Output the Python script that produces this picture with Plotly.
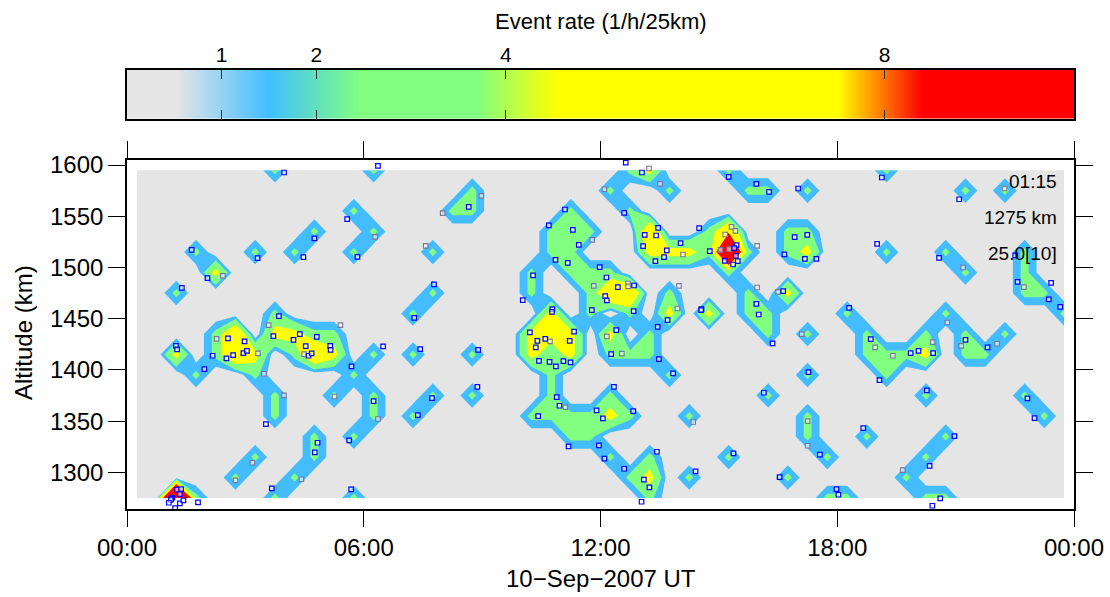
import numpy as np
import plotly.graph_objects as go

FONT = "Liberation Sans"

# Grid: half-hour columns, 20 km rows
time_hours = [0.25 + 0.5 * i for i in range(48)]
altitude_km = [1275 + 20 * i for i in range(17)]
rate_per_event = 2.5
level_values = [1, 2, 4, 8]
level_colors = ["#43BDFF", "#80FF80", "#FFFF00", "#FF0000"]

# event counts per row (bottom to top): {time column index: count}
event_counts = [
    {2: 10, 3: 1, 7: 1, 11: 1, 26: 1, 35: 1, 36: 1, 40: 1, 41: 1},
    {5: 1, 8: 1, 25: 1, 26: 2, 28: 1, 33: 1, 39: 1},
    {6: 1, 9: 1, 24: 1, 26: 1, 30: 1, 35: 1, 40: 1},
    {9: 1, 11: 1, 22: 1, 23: 1, 34: 1, 37: 1, 41: 1},
    {7: 1, 12: 1, 14: 1, 20: 1, 21: 1, 22: 1, 23: 1, 24: 2, 25: 1, 28: 1, 34: 1, 46: 1},
    {7: 1, 10: 1, 12: 1, 15: 1, 17: 1, 21: 1, 24: 1, 32: 1, 40: 1, 45: 1},
    {3: 1, 6: 1, 11: 1, 21: 1, 27: 1, 34: 1, 38: 1},
    {2: 2, 4: 1, 5: 3, 6: 2, 8: 1, 9: 3, 10: 2, 12: 1, 14: 1, 17: 1, 20: 2, 21: 1, 22: 2,
     24: 1, 25: 1, 26: 1, 37: 1, 38: 1, 39: 1, 40: 2, 42: 1, 43: 1},
    {4: 1, 5: 3, 7: 2, 8: 2, 9: 1, 10: 1, 20: 2, 21: 2, 22: 2, 24: 2, 26: 1, 32: 1, 34: 1,
     37: 1, 40: 1, 42: 1, 44: 1},
    {7: 1, 14: 1, 21: 2, 23: 1, 25: 1, 27: 2, 29: 2, 31: 1, 32: 1, 36: 1, 41: 1, 47: 1},
    {2: 1, 15: 1, 20: 1, 23: 1, 24: 3, 25: 3, 27: 1, 31: 1, 33: 2, 45: 1, 46: 1},
    {4: 2, 20: 1, 22: 1, 23: 1, 24: 1, 30: 1, 42: 1, 45: 1},
    {3: 1, 6: 1, 8: 1, 11: 1, 15: 1, 21: 1, 22: 1, 26: 2, 27: 2, 28: 2, 29: 1, 30: 7, 31: 1,
     33: 1, 34: 2, 38: 1, 41: 1, 45: 1},
    {9: 1, 12: 1, 21: 1, 22: 1, 23: 1, 26: 3, 29: 1, 30: 3, 33: 1, 34: 1},
    {11: 1, 16: 1, 17: 1, 22: 1, 25: 1},
    {17: 1, 24: 1, 27: 1, 31: 1, 32: 1, 34: 1, 42: 1, 44: 1},
    {7: 1, 12: 1, 25: 1, 26: 2, 30: 1, 38: 1},
]

# individual events (time in hours, altitude in km)
blue_hours = [3.98, 6.36, 5.58, 5.84, 4.75, 4.47, 3.31, 1.64, 2.04, 1.39, 1.24, 1.27, 1.96, 2.56, 2.98,
              2.17, 2.52, 2.69, 2.95, 3.04, 3.52, 3.85, 3.71, 4.38, 4.22, 4.81, 4.53, 5.15, 5.16, 4.60,
              4.68, 5.69, 6.25, 5.63, 6.49, 4.83, 4.76, 3.67, 5.68, 1.27, 1.37, 1.34, 1.15, 1.12, 1.11,
              1.06, 1.34, 1.43, 1.22, 1.80, 8.66, 7.78, 7.28, 7.43, 8.90, 8.88, 7.73, 7.37, 10.29, 10.03,
              11.10, 10.69, 11.30, 11.45, 10.86, 11.17, 11.98, 12.15, 12.44, 12.12, 12.16, 12.85, 11.78,
              12.84, 10.78, 10.77, 12.60, 12.64, 10.21, 11.33, 10.40, 10.60, 11.22, 10.36, 10.44, 10.71,
              10.87, 11.06, 11.24, 10.89, 10.96, 10.42, 11.90, 12.06, 12.34, 11.19, 11.96, 12.10, 12.60,
              12.83, 12.40, 12.27, 13.48, 13.84, 13.45, 13.70, 14.56, 14.55, 15.37, 13.43, 13.10, 13.24,
              13.04, 14.41, 13.05, 13.46, 13.12, 13.41, 13.08, 13.68, 13.61, 13.39, 14.03, 14.50, 15.45,
              15.39, 14.77, 15.43, 15.15, 15.48, 15.36, 15.25, 15.95, 16.27, 17.01, 16.92, 17.24, 16.66,
              17.18, 17.47, 16.63, 15.95, 16.01, 16.36, 18.30, 17.27, 16.14, 17.56, 16.54, 17.98, 18.03,
              18.66, 19.13, 21.09, 19.01, 20.58, 22.51, 22.57, 23.42, 23.36, 23.65, 18.85, 19.86, 20.06,
              20.43, 19.07, 20.27, 21.25, 21.81, 22.82, 23.00, 20.97, 20.34, 20.61, 20.41]
blue_km = [1592.7, 1599.1, 1547.1, 1510.3, 1528.3, 1510.0, 1509.1, 1517.2, 1489.6, 1480.1, 1423.5, 1420.0,
           1400.8, 1430.7, 1427.8, 1413.8, 1411.2, 1414.4, 1416.4, 1418.6, 1347.1, 1452.5, 1433.0, 1434.9,
           1429.4, 1432.3, 1423.2, 1423.5, 1419.6, 1413.8, 1416.1, 1403.4, 1369.6, 1331.2, 1422.9, 1328.9,
           1319.5, 1284.4, 1283.4, 1283.0, 1283.7, 1278.8, 1275.2, 1274.4, 1273.0, 1270.3, 1269.8, 1272.7,
           1265.0, 1270.7, 1559.1, 1483.4, 1450.8, 1420.3, 1419.6, 1383.5, 1372.5, 1355.9, 1492.2, 1468.1,
           1556.6, 1541.0, 1536.7, 1522.0, 1507.4, 1504.5, 1500.3, 1490.2, 1480.8, 1472.0, 1467.8, 1482.4,
           1458.3, 1457.4, 1459.3, 1456.7, 1553.3, 1602.4, 1436.6, 1437.4, 1428.4, 1430.3, 1428.4, 1422.0,
           1408.9, 1407.9, 1403.4, 1408.6, 1407.3, 1373.5, 1365.0, 1354.9, 1360.5, 1352.7, 1383.5, 1325.4,
           1326.3, 1313.3, 1303.5, 1359.8, 1438.8, 1415.4, 1410.5, 1396.6, 1442.0, 1448.6, 1459.3, 1458.3,
           1318.5, 1320.1, 1292.8, 1285.4, 1271.3, 1301.0, 1592.7, 1538.6, 1531.8, 1531.2, 1520.8, 1516.6,
           1510.0, 1506.1, 1523.7, 1538.3, 1521.8, 1518.8, 1515.9, 1511.3, 1506.4, 1506.1, 1502.9, 1588.4,
           1581.6, 1573.8, 1577.1, 1529.6, 1531.8, 1512.7, 1508.4, 1508.4, 1476.9, 1464.5, 1454.1, 1425.9,
           1460.6, 1397.9, 1377.7, 1317.2, 1295.4, 1283.7, 1278.1, 1343.2, 1587.8, 1566.6, 1523.0, 1509.4,
           1511.7, 1486.0, 1485.0, 1468.8, 1461.6, 1430.0, 1416.4, 1418.6, 1416.4, 1390.0, 1380.0, 1429.4,
           1422.0, 1372.2, 1353.0, 1335.4, 1306.4, 1274.6, 1267.4]
gray_hours = [6.29, 2.43, 2.27, 3.32, 3.47, 3.98, 3.59, 4.49, 5.41, 5.26, 6.36, 4.42, 3.18, 2.75, 8.98, 8.00,
              7.57, 11.79, 11.83, 12.70, 12.70, 10.72, 12.10, 11.11, 12.16, 12.54, 13.95, 13.99, 14.35, 13.23,
              13.51, 14.09, 15.32, 15.42, 15.16, 15.26, 15.04, 15.97, 15.97, 16.50, 17.10, 17.25, 17.25, 22.24,
              21.19, 22.73, 20.79, 18.96, 19.41, 20.42, 21.14, 22.05, 19.66]
gray_km = [1529.9, 1491.8, 1430.3, 1416.1, 1396.2, 1375.1, 1443.7, 1415.4, 1443.7, 1374.1, 1352.0, 1293.2,
           1309.4, 1292.2, 1569.9, 1553.0, 1521.1, 1526.9, 1482.0, 1484.4, 1481.5, 1427.8, 1576.4, 1363.7,
           1432.7, 1415.9, 1460.0, 1482.0, 1349.1, 1596.6, 1581.6, 1512.7, 1539.6, 1535.7, 1532.2, 1517.9,
           1517.2, 1521.1, 1480.5, 1476.2, 1434.9, 1350.0, 1326.0, 1577.1, 1500.0, 1480.8, 1446.3, 1422.0,
           1413.8, 1427.1, 1423.5, 1425.5, 1302.2]

x_tick_hours = [0, 6, 12, 18, 24]
x_tick_labels = ["00:00", "06:00", "12:00", "18:00", "00:00"]
y_ticks = [1300, 1350, 1400, 1450, 1500, 1550, 1600]
bar_ticks = [1, 2, 4, 8]
bar_stops = [(0.0, "#E5E5E5"), (0.052, "#E5E5E5"), (0.149, "#40BFFF"), (0.246, "#80FF80"), (0.369, "#80FF80"),
             (0.454, "#FFFF00"), (0.75, "#FFFF00"), (0.84, "#FF0000"), (1.0, "#FF0000")]

rate = np.zeros((len(altitude_km), len(time_hours)))
for r, row in enumerate(event_counts):
    for c, n in row.items():
        rate[r, c] = n * rate_per_event

W, H = 1110, 597
L, R = 127.0, 1074.0
def fx(px): return px / W
def fy(py): return 1 - py / H

fig = go.Figure()

for lev, col in zip(level_values, level_colors):
    fig.add_trace(go.Contour(
        x=time_hours, y=altitude_km, z=rate.tolist(), xaxis="x", yaxis="y",
        contours=dict(type="constraint", operation="<=", value=lev),
        fillcolor=col, line=dict(width=0, smoothing=0), showscale=False, hoverinfo="skip", showlegend=False))

fig.add_trace(go.Scatter(x=gray_hours, y=gray_km, mode="markers", xaxis="x", yaxis="y", cliponaxis=False,
                         marker=dict(symbol="square", size=4.5, color="rgba(255,255,255,0.6)",
                                     line=dict(width=1.1, color="#77779A")),
                         hoverinfo="skip", showlegend=False))
fig.add_trace(go.Scatter(x=blue_hours, y=blue_km, mode="markers", xaxis="x", yaxis="y", cliponaxis=False,
                         marker=dict(symbol="square", size=4.5, color="rgba(255,255,255,0.6)",
                                     line=dict(width=1.2, color="#0000FF")),
                         hoverinfo="skip", showlegend=False))

# colour ramp
ramp = np.linspace(0, 10, 948)
fig.add_trace(go.Heatmap(x=ramp.tolist(), y=[0, 1], z=[ramp.tolist(), ramp.tolist()], xaxis="x2", yaxis="y2",
                         zmin=0, zmax=10, colorscale=[list(s) for s in bar_stops], showscale=False,
                         hoverinfo="skip", zsmooth="best"))

tick_font = dict(family=FONT, size=24, color="#000000")
bar_font = dict(family=FONT, size=21, color="#000000")
axis_common = dict(showgrid=False, zeroline=False, showline=True, linecolor="#000000", linewidth=1.6,
                   mirror="ticks", ticks="outside", tickcolor="#000000", tickwidth=1.1, ticklen=17,
                   tickfont=tick_font)

fig.update_layout(
    width=W, height=H, autosize=False, margin=dict(l=0, r=0, t=0, b=0, pad=0, autoexpand=False),
    paper_bgcolor="#FFFFFF", plot_bgcolor="#FFFFFF", font=dict(family=FONT, color="#000000"),
    xaxis=dict(domain=[fx(L), fx(R)], range=[0, 24], tickmode="array", tickvals=x_tick_hours, ticktext=x_tick_labels,
               anchor="y", **axis_common),
    yaxis=dict(domain=[fy(508.5), fy(160)], range=[1264.7, 1604.9], tickmode="array", tickvals=y_ticks,
               anchor="x", **axis_common),
    xaxis2=dict(domain=[fx(L), fx(R)], range=[0, 10], tickmode="array", tickvals=bar_ticks, side="top", anchor="y2",
                showgrid=False, zeroline=False, showline=True, linecolor="#000000", linewidth=1.6, mirror="ticks",
                ticks="inside", tickcolor="#333333", tickwidth=1.1, ticklen=9, tickfont=bar_font,
                ticklabelstandoff=-2),
    yaxis2=dict(domain=[fy(118.5), fy(70)], range=[0, 1], anchor="x2", showticklabels=False, ticks="", showgrid=False,
                zeroline=False, showline=True, linecolor="#000000", linewidth=1.6, mirror=True),
    shapes=[dict(type="rect", xref="x", yref="y", x0=time_hours[0], x1=time_hours[-1], y0=altitude_km[0],
                 y1=altitude_km[-1], fillcolor="#E5E5E5", line=dict(width=0), layer="below")],
    annotations=[
        dict(text="Event rate (1/h/25km)", xref="paper", yref="paper", x=fx(601), y=fy(21), showarrow=False,
             font=dict(family=FONT, size=22), xanchor="center", yanchor="middle"),
        dict(text="10\u2212Sep\u22122007 UT", xref="paper", yref="paper", x=fx(601), y=fy(578), showarrow=False,
             font=dict(family=FONT, size=24), xanchor="center", yanchor="middle"),
        dict(text="Altitude (km)", xref="paper", yref="paper", x=fx(23), y=fy(333), showarrow=False, textangle=-90,
             font=dict(family=FONT, size=24), xanchor="center", yanchor="middle"),
        dict(text="01:15", xref="paper", yref="paper", x=fx(1059), y=fy(181), showarrow=False,
             font=dict(family=FONT, size=19), xanchor="right", yanchor="middle"),
        dict(text="1275 km", xref="paper", yref="paper", x=fx(1059), y=fy(217), showarrow=False,
             font=dict(family=FONT, size=19), xanchor="right", yanchor="middle"),
        dict(text="25.0[10]", xref="paper", yref="paper", x=fx(1059), y=fy(253), showarrow=False,
             font=dict(family=FONT, size=19), xanchor="right", yanchor="middle"),
    ],
)

fig.write_html("out.html", post_script="document.body.style.margin='0';", config={"displayModeBar": False})
